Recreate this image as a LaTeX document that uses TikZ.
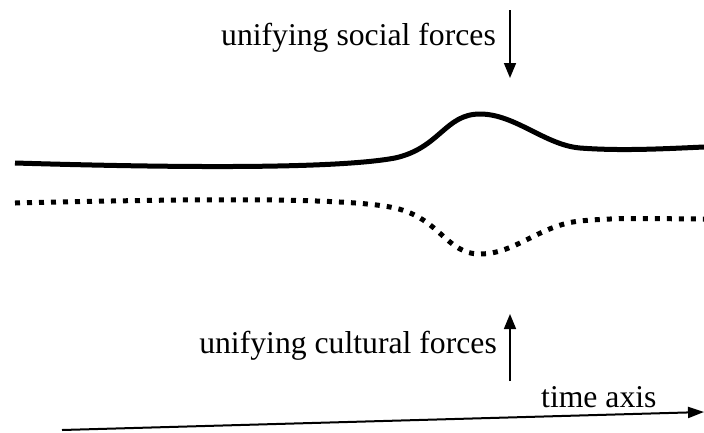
\documentclass[tikz,border=0pt]{standalone}
\usepackage{fontspec}
\setmainfont{Liberation Serif}
\usetikzlibrary{arrows.meta}
\begin{document}
\begin{tikzpicture}[x=1pt,y=-1pt,
  lbl/.style={inner sep=0pt,font=\fontsize{31.7}{36}\selectfont},
  forcearrow/.style={line width=1.6pt,-{Triangle[length=15pt,width=12pt]}},
  solidcurve/.style={line width=5pt},
  dotcurve/.style={line width=5pt,dash pattern=on 5pt off 7pt}]
\useasboundingbox (0,0) rectangle (704,432);
% labels
\node[lbl,anchor=east] (social) at (496,38) {unifying social forces};
\node[lbl,anchor=east] (cultural) at (497,346) {unifying cultural forces};
\node[lbl,anchor=west] (time) at (541,397) {time axis};
% force arrows
\coordinate (s0) at (510,10);
\coordinate (s1) at (510,78);
\draw[forcearrow] (s0) -- (s1);
\coordinate (c0) at (510,381);
\coordinate (c1) at (510,314);
\draw[forcearrow] (c0) -- (c1);
% time axis
\coordinate (t0) at (62,430);
\coordinate (t1) at (704,412);
\draw[line width=2pt,-{Triangle[length=16pt,width=11pt]}] (t0) -- (t1);
% curves
\draw[solidcurve] (15,163) .. controls (150,167) and (330,170) .. (395,158)
  .. controls (440,148) and (445,114) .. (480,114)
  .. controls (515,114) and (545,145) .. (580,148)
  .. controls (620,151) and (660,149) .. (704,147);
\draw[dotcurve] (15,203) .. controls (150,200) and (330,196) .. (390,207)
  .. controls (440,216) and (445,254) .. (480,254)
  .. controls (515,254) and (540,225) .. (580,221)
  .. controls (620,217) and (660,219) .. (704,219);
\end{tikzpicture}
\end{document}
